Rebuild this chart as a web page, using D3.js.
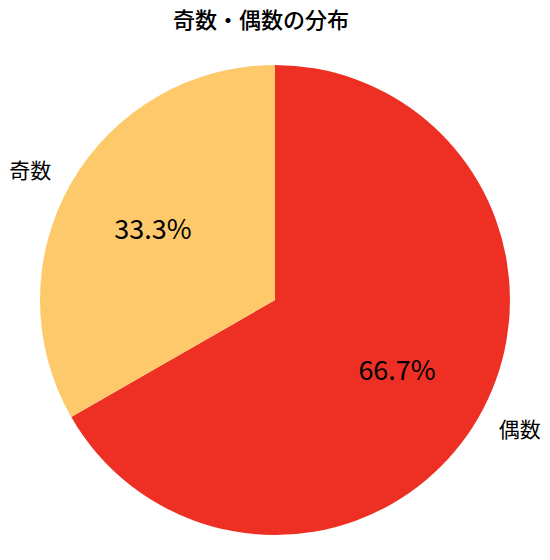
<!DOCTYPE html>
<meta charset="utf-8">
<style>
  body { margin: 0; background: #fff; }
  text { font-family: "Noto Sans CJK JP", "Noto Sans", sans-serif; fill: #000; }
  .title { font-size: 22px; font-weight: 500; text-anchor: middle; }
  .label { font-size: 21px; }
  .pct { font-size: 27px; text-anchor: middle; }
</style>
<svg width="550" height="560"></svg>
<script src="https://d3js.org/d3.v7.min.js"></script>
<script>

  var categories = ["偶数", "奇数"];
  var values = [66.7, 33.3];
  var colors = ["#EE3024", "#FDC96A"];

  var svg = d3.select("svg"),
      cx = 275, cy = 300, radius = 235;

  svg.append("text")
      .attr("class", "title")
      .attr("x", 261)
      .attr("y", 28)
      .text("奇数・偶数の分布");

  var g = svg.append("g").attr("transform", "translate(" + cx + "," + cy + ")");

  var pie = d3.pie().sort(null).value(function(d) { return d; });
  var arcs = pie(values);

  var arc = d3.arc().innerRadius(0).outerRadius(radius);
  var pctArc = d3.arc().innerRadius(radius * 0.6).outerRadius(radius * 0.6);
  var labelArc = d3.arc().innerRadius(radius * 1.1).outerRadius(radius * 1.1);

  g.selectAll("path")
      .data(arcs)
      .enter().append("path")
      .attr("d", arc)
      .attr("fill", function(d, i) { return colors[i]; });

  g.selectAll(".pct")
      .data(arcs)
      .enter().append("text")
      .attr("class", "pct")
      .attr("transform", function(d) { return "translate(" + pctArc.centroid(d) + ")"; })
      .attr("dy", "0.35em")
      .text(function(d) { return d.data.toFixed(1) + "%"; });

  g.selectAll(".label")
      .data(arcs)
      .enter().append("text")
      .attr("class", "label")
      .attr("transform", function(d) { return "translate(" + labelArc.centroid(d) + ")"; })
      .attr("dy", "0.35em")
      .attr("text-anchor", function(d) { return (d.startAngle + d.endAngle) / 2 < Math.PI ? "start" : "end"; })
      .text(function(d, i) { return categories[i]; });

</script>
